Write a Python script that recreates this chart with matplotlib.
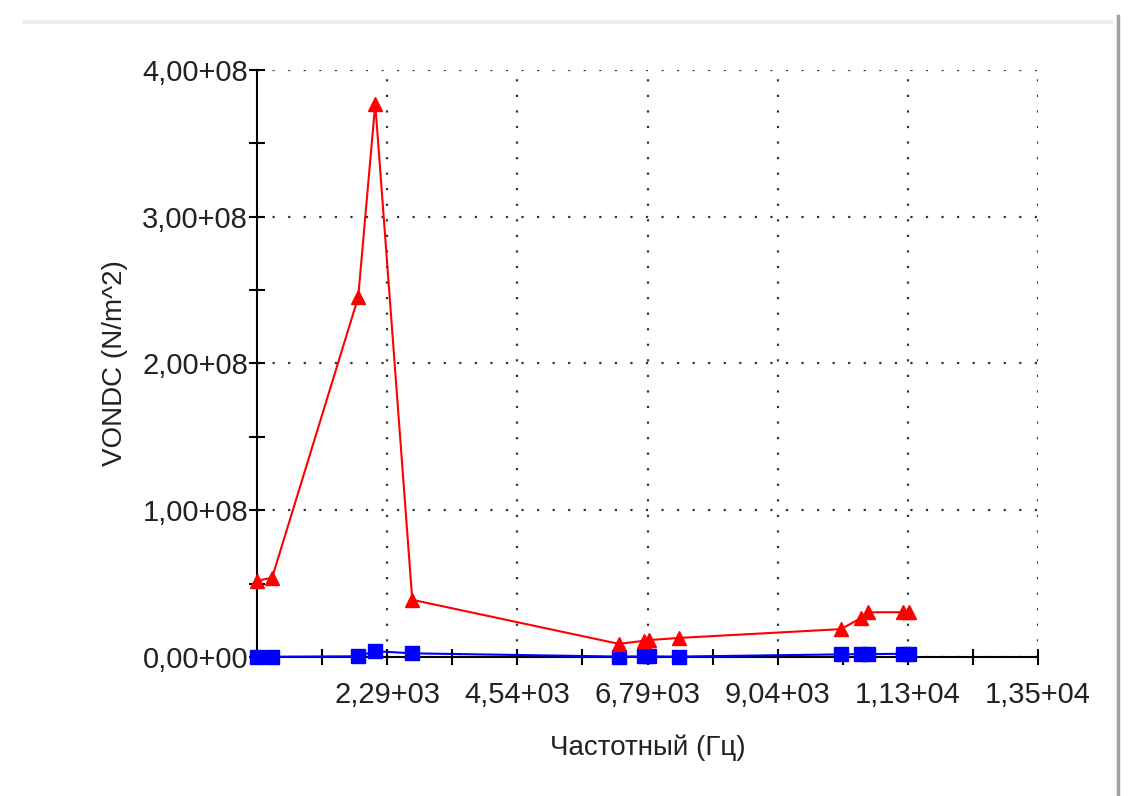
import matplotlib.pyplot as plt
from matplotlib.lines import Line2D
from matplotlib.ticker import FixedLocator, FuncFormatter

# frequency points (Hz)
freq = [40, 300, 1788, 2083, 2723, 6289, 6722, 6808, 7327,
        10132, 10478, 10599, 11205, 11309]
# upper curve (red, triangles)
vondc_max = [5.2e7, 5.4e7, 2.45e8, 3.77e8, 3.9e7, 9.0e6, 1.1e7, 1.15e7, 1.3e7,
             1.9e7, 2.65e7, 3.05e7, 3.05e7, 3.05e7]
# lower curve (blue, squares)
vondc_min = [3e5, 2e5, 5e5, 4.0e6, 2.5e6, 3e5, 4e5, 4e5, 3e5,
             1.8e6, 2.0e6, 2.0e6, 2.2e6, 2.2e6]

x_ticks = [2290, 4540, 6790, 9040, 11290, 13540]
y_ticks = [0, 1e8, 2e8, 3e8, 4e8]

plt.rcParams['font.family'] = ['Liberation Sans', 'DejaVu Sans']


def sci_comma(v, pos=None):
    if v == 0:
        return '0,00+00'
    s = '%.2e' % v
    mant, exp = s.split('e')
    return mant.replace('.', ',') + '+%02d' % abs(int(exp))


fig = plt.figure(figsize=(11.45, 7.96), dpi=100)
ax = fig.add_axes([0.2245, 0.1746, 0.6821, 0.7375])

ax.plot(freq, vondc_min, color='#0000ff', lw=1.5, marker='s', ms=10,
        zorder=4, clip_on=False)
ax.plot(freq, vondc_max, color='#ff0000', lw=1.5, marker='^', ms=9.5,
        zorder=5, clip_on=False)

ax.set_xlim(40, 13540)
ax.set_ylim(0, 4e8)

ax.xaxis.set_major_locator(FixedLocator(x_ticks))
ax.xaxis.set_minor_locator(FixedLocator([x - 1125 for x in x_ticks]))
ax.yaxis.set_major_locator(FixedLocator(y_ticks))
ax.yaxis.set_minor_locator(FixedLocator([y + 5e7 for y in y_ticks[:-1]]))
ax.xaxis.set_major_formatter(FuncFormatter(sci_comma))
ax.yaxis.set_major_formatter(FuncFormatter(sci_comma))

ax.tick_params(which='both', direction='inout', length=11, width=1.5,
               color='black', labelsize=21, labelcolor='#222222')
ax.tick_params(axis='x', pad=12)
ax.tick_params(axis='y', pad=1)

ax.grid(True, which='major', color='#333333', lw=1.6, linestyle=(0, (1, 6)))
ax.set_axisbelow(True)

for side in ['top', 'right']:
    ax.spines[side].set_visible(False)
for side in ['left', 'bottom']:
    ax.spines[side].set_linewidth(1.5)
    ax.spines[side].set_color('black')

ax.set_xlabel('Частотный (Гц)', fontsize=20, color='#222222', labelpad=18)
ax.set_ylabel('VONDC (N/m^2)', fontsize=20, color='#222222', labelpad=10)

# panel frame
fig.add_artist(Line2D([25 / 1145, 1112 / 1145], [1 - 22 / 796, 1 - 22 / 796],
                      color='#eeeeee', lw=3, transform=fig.transFigure))
fig.add_artist(Line2D([1118 / 1145, 1118 / 1145], [0, 1 - 16 / 796],
                      color='#a0a0a0', lw=2.5, transform=fig.transFigure))

fig.savefig('out.png', dpi=100)
